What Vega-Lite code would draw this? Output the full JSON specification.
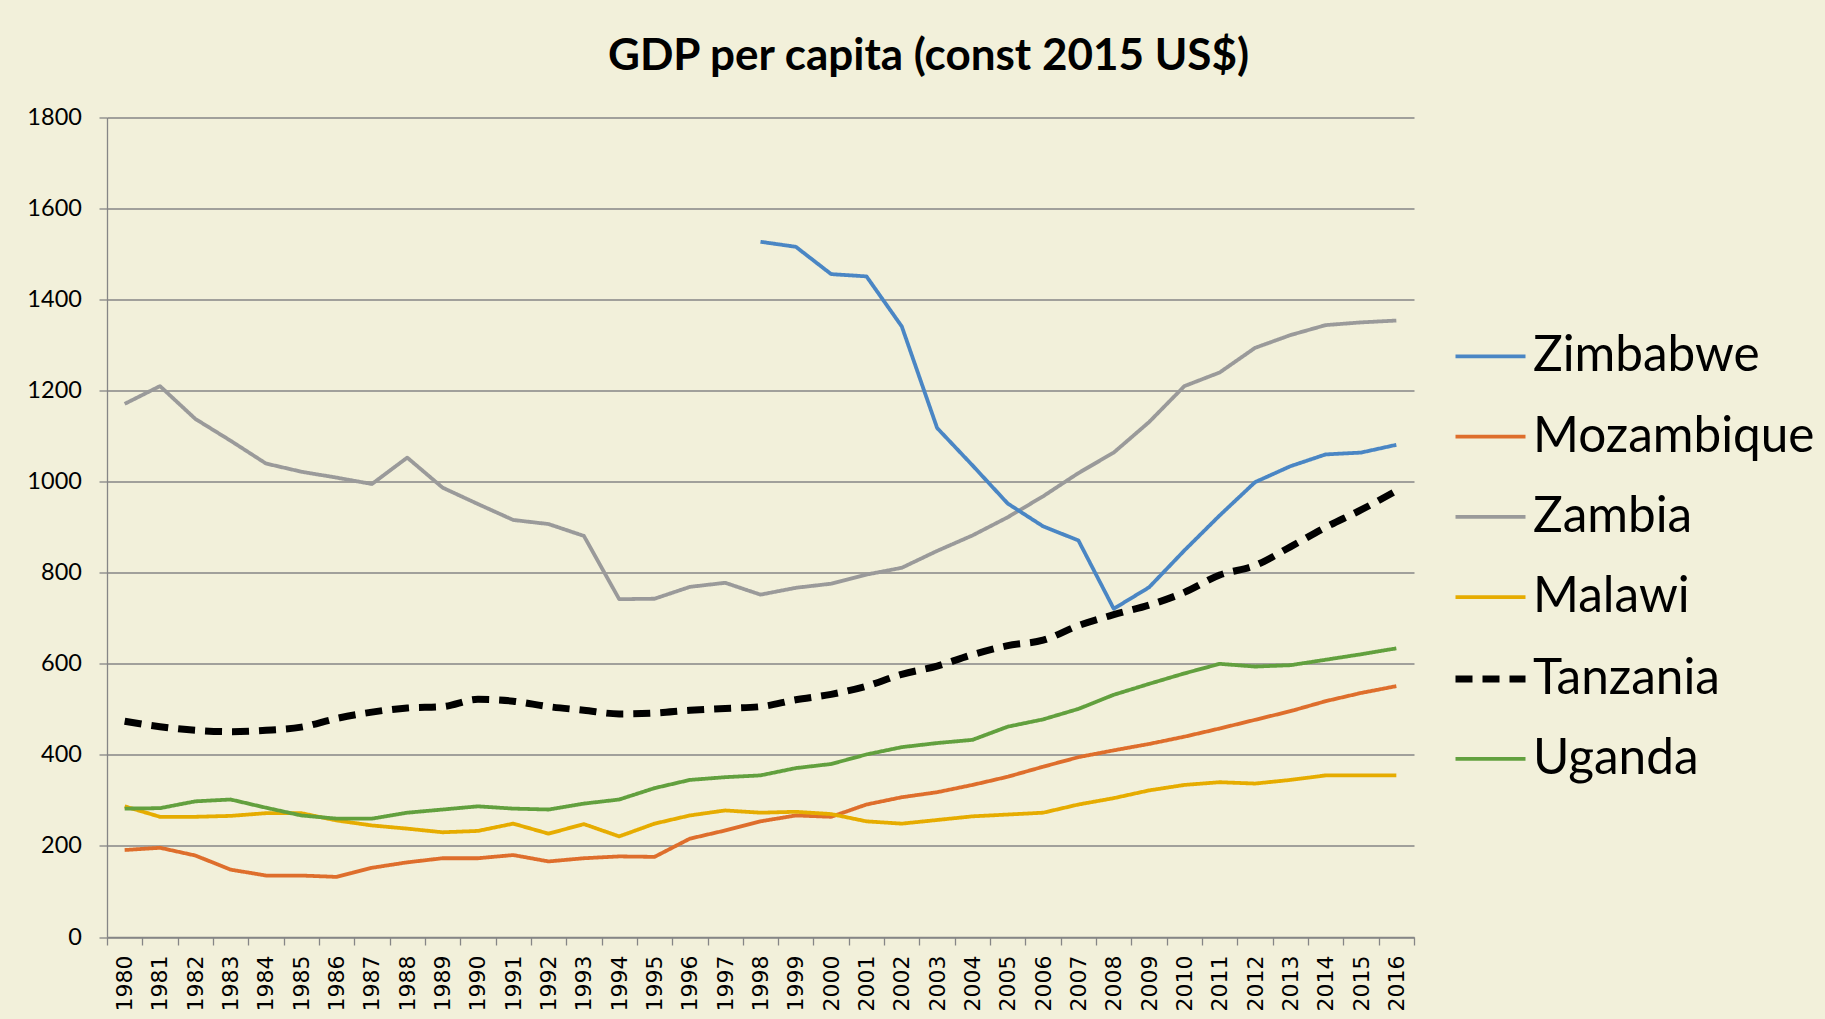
{
"$schema": "https://vega.github.io/schema/vega-lite/v6.json",
"width": 1307, "height": 819.5,
"autosize": "none",
"padding": {"left": 107, "top": 117.5, "right": 411, "bottom": 82},
"background": "#F2F0DA",
"title": {"text": "GDP per capita (const 2015 US$)", "font": "Lato", "fontSize": 44, "fontWeight": "bold", "color": "#000000", "anchor": "middle", "frame": "group", "dx": 168, "dy": 42, "baseline": "alphabetic", "offset": 34},
"config": {
  "view": {"stroke": null},
  "legend": {"orient": "none", "legendX": 1345, "legendY": 201.8, "padding": 0, "labelFont": "Lato", "labelFontSize": 49.5, "labelLimit": 500, "labelColor": "#000000", "symbolType": "stroke", "symbolSize": 4900, "labelOffset": 4, "rowPadding": 18.3}
},
"datasets": {
"gdp": [
{"country":"Zambia","year":1980,"gdp":1171},{"country":"Zambia","year":1981,"gdp":1210},{"country":"Zambia","year":1982,"gdp":1138},{"country":"Zambia","year":1983,"gdp":1090},{"country":"Zambia","year":1984,"gdp":1040},{"country":"Zambia","year":1985,"gdp":1022},{"country":"Zambia","year":1986,"gdp":1009},{"country":"Zambia","year":1987,"gdp":995},{"country":"Zambia","year":1988,"gdp":1053},{"country":"Zambia","year":1989,"gdp":987},{"country":"Zambia","year":1990,"gdp":951},{"country":"Zambia","year":1991,"gdp":916},{"country":"Zambia","year":1992,"gdp":907},{"country":"Zambia","year":1993,"gdp":881},{"country":"Zambia","year":1994,"gdp":742},{"country":"Zambia","year":1995,"gdp":743},{"country":"Zambia","year":1996,"gdp":769},{"country":"Zambia","year":1997,"gdp":778},{"country":"Zambia","year":1998,"gdp":752},{"country":"Zambia","year":1999,"gdp":767},{"country":"Zambia","year":2000,"gdp":776},{"country":"Zambia","year":2001,"gdp":796},{"country":"Zambia","year":2002,"gdp":811},{"country":"Zambia","year":2003,"gdp":848},{"country":"Zambia","year":2004,"gdp":882},{"country":"Zambia","year":2005,"gdp":922},{"country":"Zambia","year":2006,"gdp":968},{"country":"Zambia","year":2007,"gdp":1019},{"country":"Zambia","year":2008,"gdp":1064},{"country":"Zambia","year":2009,"gdp":1131},{"country":"Zambia","year":2010,"gdp":1210},{"country":"Zambia","year":2011,"gdp":1240},{"country":"Zambia","year":2012,"gdp":1294},{"country":"Zambia","year":2013,"gdp":1322},{"country":"Zambia","year":2014,"gdp":1344},{"country":"Zambia","year":2015,"gdp":1350},{"country":"Zambia","year":2016,"gdp":1354},
{"country":"Zimbabwe","year":1998,"gdp":1527},{"country":"Zimbabwe","year":1999,"gdp":1516},{"country":"Zimbabwe","year":2000,"gdp":1456},{"country":"Zimbabwe","year":2001,"gdp":1451},{"country":"Zimbabwe","year":2002,"gdp":1341},{"country":"Zimbabwe","year":2003,"gdp":1118},{"country":"Zimbabwe","year":2004,"gdp":1036},{"country":"Zimbabwe","year":2005,"gdp":952},{"country":"Zimbabwe","year":2006,"gdp":902},{"country":"Zimbabwe","year":2007,"gdp":871},{"country":"Zimbabwe","year":2008,"gdp":721},{"country":"Zimbabwe","year":2009,"gdp":768},{"country":"Zimbabwe","year":2010,"gdp":849},{"country":"Zimbabwe","year":2011,"gdp":926},{"country":"Zimbabwe","year":2012,"gdp":999},{"country":"Zimbabwe","year":2013,"gdp":1034},{"country":"Zimbabwe","year":2014,"gdp":1060},{"country":"Zimbabwe","year":2015,"gdp":1064},{"country":"Zimbabwe","year":2016,"gdp":1081},
{"country":"Mozambique","year":1980,"gdp":191},{"country":"Mozambique","year":1981,"gdp":196},{"country":"Mozambique","year":1982,"gdp":179},{"country":"Mozambique","year":1983,"gdp":148},{"country":"Mozambique","year":1984,"gdp":135},{"country":"Mozambique","year":1985,"gdp":135},{"country":"Mozambique","year":1986,"gdp":132},{"country":"Mozambique","year":1987,"gdp":152},{"country":"Mozambique","year":1988,"gdp":164},{"country":"Mozambique","year":1989,"gdp":173},{"country":"Mozambique","year":1990,"gdp":173},{"country":"Mozambique","year":1991,"gdp":180},{"country":"Mozambique","year":1992,"gdp":166},{"country":"Mozambique","year":1993,"gdp":173},{"country":"Mozambique","year":1994,"gdp":177},{"country":"Mozambique","year":1995,"gdp":176},{"country":"Mozambique","year":1996,"gdp":216},{"country":"Mozambique","year":1997,"gdp":234},{"country":"Mozambique","year":1998,"gdp":254},{"country":"Mozambique","year":1999,"gdp":267},{"country":"Mozambique","year":2000,"gdp":264},{"country":"Mozambique","year":2001,"gdp":291},{"country":"Mozambique","year":2002,"gdp":307},{"country":"Mozambique","year":2003,"gdp":318},{"country":"Mozambique","year":2004,"gdp":334},{"country":"Mozambique","year":2005,"gdp":352},{"country":"Mozambique","year":2006,"gdp":374},{"country":"Mozambique","year":2007,"gdp":395},{"country":"Mozambique","year":2008,"gdp":410},{"country":"Mozambique","year":2009,"gdp":424},{"country":"Mozambique","year":2010,"gdp":440},{"country":"Mozambique","year":2011,"gdp":458},{"country":"Mozambique","year":2012,"gdp":477},{"country":"Mozambique","year":2013,"gdp":496},{"country":"Mozambique","year":2014,"gdp":518},{"country":"Mozambique","year":2015,"gdp":536},{"country":"Mozambique","year":2016,"gdp":551},
{"country":"Malawi","year":1980,"gdp":287},{"country":"Malawi","year":1981,"gdp":264},{"country":"Malawi","year":1982,"gdp":264},{"country":"Malawi","year":1983,"gdp":266},{"country":"Malawi","year":1984,"gdp":272},{"country":"Malawi","year":1985,"gdp":272},{"country":"Malawi","year":1986,"gdp":256},{"country":"Malawi","year":1987,"gdp":245},{"country":"Malawi","year":1988,"gdp":238},{"country":"Malawi","year":1989,"gdp":230},{"country":"Malawi","year":1990,"gdp":233},{"country":"Malawi","year":1991,"gdp":249},{"country":"Malawi","year":1992,"gdp":227},{"country":"Malawi","year":1993,"gdp":248},{"country":"Malawi","year":1994,"gdp":221},{"country":"Malawi","year":1995,"gdp":249},{"country":"Malawi","year":1996,"gdp":267},{"country":"Malawi","year":1997,"gdp":278},{"country":"Malawi","year":1998,"gdp":273},{"country":"Malawi","year":1999,"gdp":275},{"country":"Malawi","year":2000,"gdp":270},{"country":"Malawi","year":2001,"gdp":254},{"country":"Malawi","year":2002,"gdp":249},{"country":"Malawi","year":2003,"gdp":257},{"country":"Malawi","year":2004,"gdp":265},{"country":"Malawi","year":2005,"gdp":269},{"country":"Malawi","year":2006,"gdp":273},{"country":"Malawi","year":2007,"gdp":291},{"country":"Malawi","year":2008,"gdp":305},{"country":"Malawi","year":2009,"gdp":322},{"country":"Malawi","year":2010,"gdp":334},{"country":"Malawi","year":2011,"gdp":340},{"country":"Malawi","year":2012,"gdp":337},{"country":"Malawi","year":2013,"gdp":345},{"country":"Malawi","year":2014,"gdp":355},{"country":"Malawi","year":2015,"gdp":355},{"country":"Malawi","year":2016,"gdp":355},
{"country":"Uganda","year":1980,"gdp":282},{"country":"Uganda","year":1981,"gdp":283},{"country":"Uganda","year":1982,"gdp":298},{"country":"Uganda","year":1983,"gdp":302},{"country":"Uganda","year":1984,"gdp":284},{"country":"Uganda","year":1985,"gdp":267},{"country":"Uganda","year":1986,"gdp":260},{"country":"Uganda","year":1987,"gdp":260},{"country":"Uganda","year":1988,"gdp":273},{"country":"Uganda","year":1989,"gdp":280},{"country":"Uganda","year":1990,"gdp":287},{"country":"Uganda","year":1991,"gdp":282},{"country":"Uganda","year":1992,"gdp":280},{"country":"Uganda","year":1993,"gdp":293},{"country":"Uganda","year":1994,"gdp":302},{"country":"Uganda","year":1995,"gdp":327},{"country":"Uganda","year":1996,"gdp":345},{"country":"Uganda","year":1997,"gdp":351},{"country":"Uganda","year":1998,"gdp":355},{"country":"Uganda","year":1999,"gdp":371},{"country":"Uganda","year":2000,"gdp":380},{"country":"Uganda","year":2001,"gdp":401},{"country":"Uganda","year":2002,"gdp":417},{"country":"Uganda","year":2003,"gdp":426},{"country":"Uganda","year":2004,"gdp":433},{"country":"Uganda","year":2005,"gdp":462},{"country":"Uganda","year":2006,"gdp":478},{"country":"Uganda","year":2007,"gdp":501},{"country":"Uganda","year":2008,"gdp":532},{"country":"Uganda","year":2009,"gdp":556},{"country":"Uganda","year":2010,"gdp":579},{"country":"Uganda","year":2011,"gdp":600},{"country":"Uganda","year":2012,"gdp":594},{"country":"Uganda","year":2013,"gdp":597},{"country":"Uganda","year":2014,"gdp":609},{"country":"Uganda","year":2015,"gdp":621},{"country":"Uganda","year":2016,"gdp":634},
{"country":"Tanzania","year":1980,"gdp":474},{"country":"Tanzania","year":1981,"gdp":462},{"country":"Tanzania","year":1982,"gdp":454},{"country":"Tanzania","year":1983,"gdp":451},{"country":"Tanzania","year":1984,"gdp":454},{"country":"Tanzania","year":1985,"gdp":461},{"country":"Tanzania","year":1986,"gdp":480},{"country":"Tanzania","year":1987,"gdp":494},{"country":"Tanzania","year":1988,"gdp":503},{"country":"Tanzania","year":1989,"gdp":506},{"country":"Tanzania","year":1990,"gdp":522},{"country":"Tanzania","year":1991,"gdp":518},{"country":"Tanzania","year":1992,"gdp":506},{"country":"Tanzania","year":1993,"gdp":498},{"country":"Tanzania","year":1994,"gdp":490},{"country":"Tanzania","year":1995,"gdp":492},{"country":"Tanzania","year":1996,"gdp":498},{"country":"Tanzania","year":1997,"gdp":502},{"country":"Tanzania","year":1998,"gdp":506},{"country":"Tanzania","year":1999,"gdp":521},{"country":"Tanzania","year":2000,"gdp":533},{"country":"Tanzania","year":2001,"gdp":551},{"country":"Tanzania","year":2002,"gdp":577},{"country":"Tanzania","year":2003,"gdp":595},{"country":"Tanzania","year":2004,"gdp":620},{"country":"Tanzania","year":2005,"gdp":640},{"country":"Tanzania","year":2006,"gdp":652},{"country":"Tanzania","year":2007,"gdp":684},{"country":"Tanzania","year":2008,"gdp":708},{"country":"Tanzania","year":2009,"gdp":729},{"country":"Tanzania","year":2010,"gdp":757},{"country":"Tanzania","year":2011,"gdp":795},{"country":"Tanzania","year":2012,"gdp":816},{"country":"Tanzania","year":2013,"gdp":857},{"country":"Tanzania","year":2014,"gdp":900},{"country":"Tanzania","year":2015,"gdp":938},{"country":"Tanzania","year":2016,"gdp":980}
]
},
"data": {"name": "gdp"},
"encoding": {
  "x": {"field": "year", "type": "ordinal", "bandPosition": 0.5,
        "scale": {"type": "band", "paddingInner": 0, "paddingOuter": 0},
        "axis": {"title": null, "labelAngle": -90, "labelFont": "DejaVu Sans", "labelFontSize": 22, "labelColor": "#000000", "tickBand": "extent", "tickSize": 8, "tickColor": "#868686", "tickWidth": 1.3, "domainColor": "#868686", "domainWidth": 1.3, "labelPadding": 10, "grid": false}},
  "y": {"field": "gdp", "type": "quantitative",
        "scale": {"domain": [0, 1800], "nice": false},
        "axis": {"title": null, "format": "d", "values": [0,200,400,600,800,1000,1200,1400,1600,1800], "grid": true, "gridColor": "#868686", "gridWidth": 1.3, "domainColor": "#868686", "domainWidth": 1.3, "tickColor": "#868686", "tickWidth": 1.3, "tickSize": 8, "labelFont": "Lato", "labelFontSize": 23.5, "labelColor": "#000000", "labelPadding": 17.6}},
  "color": {"field": "country", "type": "nominal", "title": null,
        "scale": {"domain": ["Zimbabwe","Mozambique","Zambia","Malawi","Tanzania","Uganda"], "range": ["#4A86C4","#DE6E2C","#9A9A9A","#E6AC00","#000000","#62A03E"]}},
  "strokeDash": {"field": "country", "type": "nominal", "title": null,
        "scale": {"type": "ordinal", "domain": ["Zimbabwe","Mozambique","Zambia","Malawi","Tanzania","Uganda"], "range": [[1,0],[1,0],[1,0],[1,0],[17,10],[1,0]]}},
  "strokeWidth": {"field": "country", "type": "nominal", "title": null,
        "scale": {"type": "ordinal", "domain": ["Zimbabwe","Mozambique","Zambia","Malawi","Tanzania","Uganda"], "range": [3.8,3.8,3.8,3.8,7,3.8]}}
},
"layer": [
  {"transform": [{"filter": "datum.country !== 'Tanzania'"}],
   "mark": {"type": "line", "strokeJoin": "round"}},
  {"transform": [{"filter": "datum.country === 'Tanzania'"}],
   "mark": {"type": "line", "interpolate": "monotone"}}
]
}
